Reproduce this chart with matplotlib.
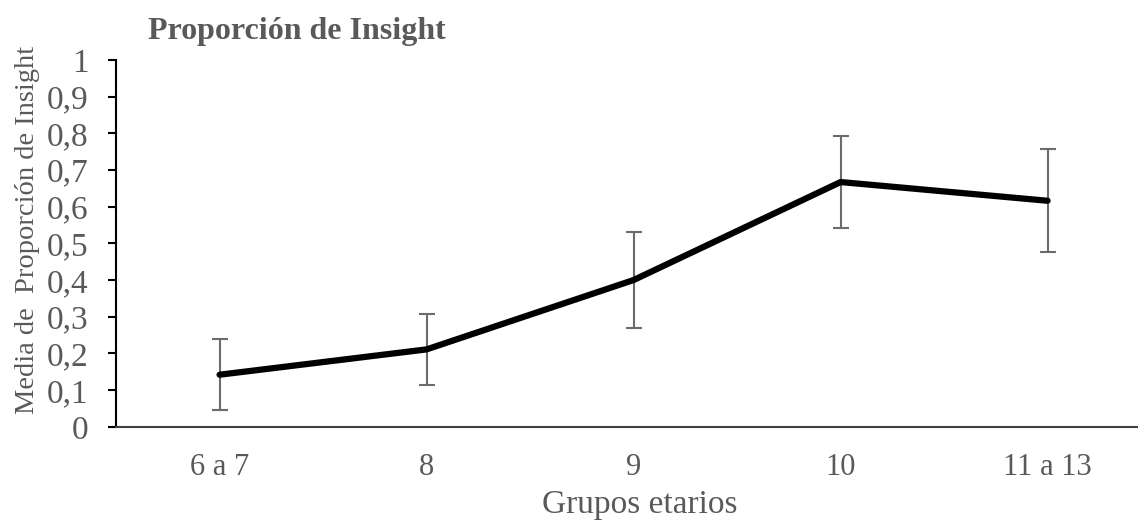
import numpy as np
import matplotlib.pyplot as plt
from matplotlib.ticker import FuncFormatter

# age groups and mean insight proportion with error bars
grupos = ["6 a 7", "8", "9", "10", "11 a 13"]
media = [0.142, 0.211, 0.400, 0.667, 0.616]
error = [0.096, 0.096, 0.132, 0.126, 0.140]

gris = "#595959"
plt.rcParams["font.family"] = ["Liberation Serif", "DejaVu Serif"]

fig = plt.figure(figsize=(11.38, 5.25), dpi=100)
# the plot area runs a little past the right edge of the figure
ax = fig.add_axes([0.102, 0.187, 0.9095, 0.699])

x = np.arange(len(grupos))
ax.errorbar(x, media, yerr=error, fmt="none", ecolor="#6b6b6b",
            elinewidth=1.5, capsize=6, capthick=1.5, zorder=2)
ax.plot(x, media, color="black", linewidth=4.5, solid_capstyle="round",
        solid_joinstyle="round", zorder=3)

ax.set_xlim(-0.5, len(grupos) - 0.5)
ax.set_ylim(0, 1)
ax.set_xticks(x)
ax.set_xticklabels(grupos)
ax.set_yticks(np.arange(0, 1.01, 0.1))
# decimal comma on the y axis
ax.yaxis.set_major_formatter(FuncFormatter(
    lambda v, pos: ("%g" % round(v, 1)).replace(".", ",")))

ax.tick_params(axis="y", direction="out", length=6, width=1.5,
               color="black", labelsize=24, labelcolor=gris, pad=14)
ax.tick_params(axis="x", length=0, labelsize=22, labelcolor=gris, pad=19)

for s in ["top", "right"]:
    ax.spines[s].set_visible(False)
ax.spines["left"].set_color("black")
ax.spines["left"].set_linewidth(1.5)
ax.spines["bottom"].set_color("#3f3f3f")
ax.spines["bottom"].set_linewidth(1.5)

# axis titles placed in figure coordinates
fig.text(0.5624, 0.038, "Grupos etarios", fontsize=24, color=gris,
         ha="center", va="center")
fig.text(0.024, 0.562, "Media de  Proporción de Insight", fontsize=20.5,
         color=gris, rotation=90, ha="center", va="center")

fig.text(0.13, 0.94, "Proporción de Insight", fontsize=23,
         fontweight="bold", color=gris, va="center", ha="left")

fig.savefig("out.png", dpi=100)
